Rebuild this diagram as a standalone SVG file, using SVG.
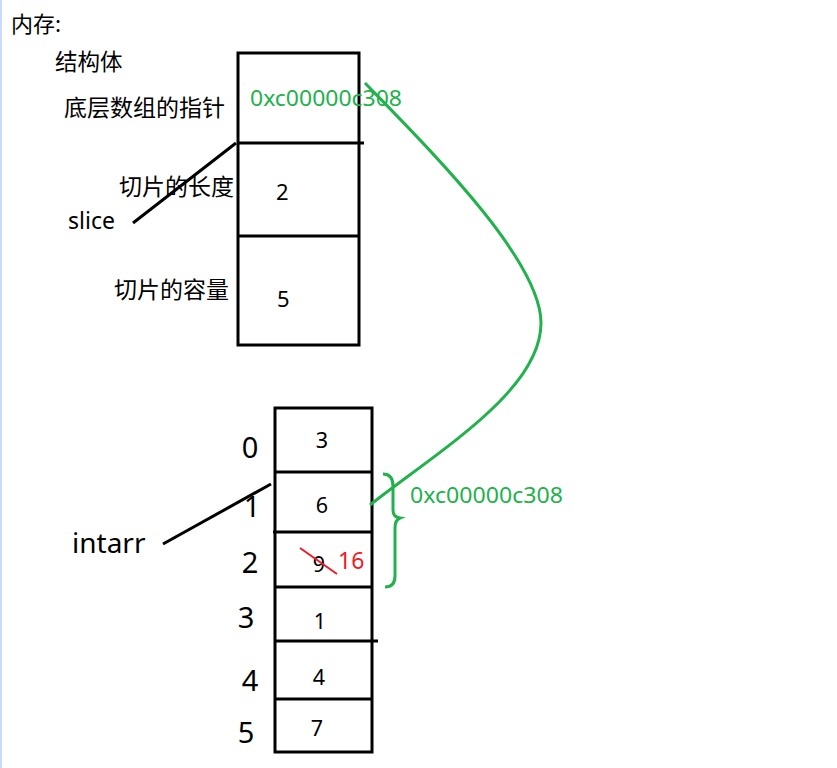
<svg xmlns="http://www.w3.org/2000/svg" width="837" height="768" viewBox="0 0 837 768">
<style>
.cjk{font-family:"Noto Sans CJK SC","Noto Sans",sans-serif;font-size:23px;fill:#000}
.lat{font-family:"Noto Sans","Noto Sans CJK SC",sans-serif;fill:#000}
.box{fill:none;stroke:#000;stroke-width:3}
.ln{fill:none;stroke:#000;stroke-width:3}
.grn{fill:none;stroke:#22b14c;stroke-width:3}
.gt{font-family:"Noto Sans","Noto Sans CJK SC",sans-serif;font-size:22.5px;fill:#22b14c}
</style>
<rect width="837" height="768" fill="#fff"/>
<rect x="0" y="0" width="2" height="768" fill="#c8dcfa"/>
<text class="cjk" x="11" y="32" style="font-size:22px">内存:</text>
<text class="cjk" x="55" y="70" style="font-size:22.5px">结构体</text>
<g id="struct">
<rect class="box" x="238" y="53" width="121" height="292"/>
<line class="ln" x1="238" y1="143" x2="364" y2="143"/>
<line class="ln" x1="238" y1="236" x2="359" y2="236"/>
<text class="cjk" x="64" y="116">底层数组的指针</text>
<text class="gt" x="250" y="106" textLength="152" lengthAdjust="spacingAndGlyphs">0xc00000c308</text>
<text class="cjk" x="119" y="195">切片的长度</text>
<text class="lat" x="276" y="200" font-size="22">2</text>
<text class="cjk" x="114" y="298">切片的容量</text>
<text class="lat" x="277" y="307" font-size="22">5</text>
</g>
<g id="slice-label">
<text class="lat" x="68" y="229" font-size="23">slice</text>
</g>
<g id="array">
<rect class="box" x="275" y="408" width="97" height="344"/>
<line class="ln" x1="275" y1="472" x2="372" y2="472"/>
<line class="ln" x1="273" y1="532" x2="373" y2="532"/>
<line class="ln" x1="275" y1="587" x2="372" y2="587"/>
<line class="ln" x1="275" y1="641" x2="378" y2="641"/>
<line class="ln" x1="275" y1="699" x2="372" y2="699"/>
<g class="lat" font-size="21.5" text-anchor="middle">
<text x="322" y="448">3</text>
<text x="322" y="513">6</text>
<text x="319" y="572">9</text>
<text x="320" y="629">1</text>
<text x="319" y="685">4</text>
<text x="317" y="736">7</text>
</g>
<text class="lat" x="338" y="569" font-size="23" style="fill:#ed1c24">16</text>
<line x1="300" y1="548" x2="337" y2="574" stroke="#ed1c24" stroke-width="2"/>
<g class="lat" font-size="29" text-anchor="middle">
<text x="250" y="458">0</text>
<text x="252" y="517">1</text>
<text x="250" y="573">2</text>
<text x="246" y="628">3</text>
<text x="250" y="691">4</text>
<text x="246" y="743">5</text>
</g>
</g>
<g id="intarr-label">
<text class="lat" x="72" y="553" font-size="28">intarr</text>
</g>
<g id="connectors">
<line class="ln" x1="133" y1="223" x2="236" y2="143"/>
<line class="ln" x1="163" y1="544" x2="271" y2="484"/>
<path class="grn" d="M365,83 C430,150 541,260 541,323 C541,390 440,450 370,505"/>
<path class="grn" d="M383,474 Q393,474 393,486 L393,510 Q393,517 400,518 Q395,520 395,528 L395,576 Q395,587 385,587"/>
<text class="gt" x="410" y="503" textLength="153" lengthAdjust="spacingAndGlyphs">0xc00000c308</text>
</g>
</svg>
